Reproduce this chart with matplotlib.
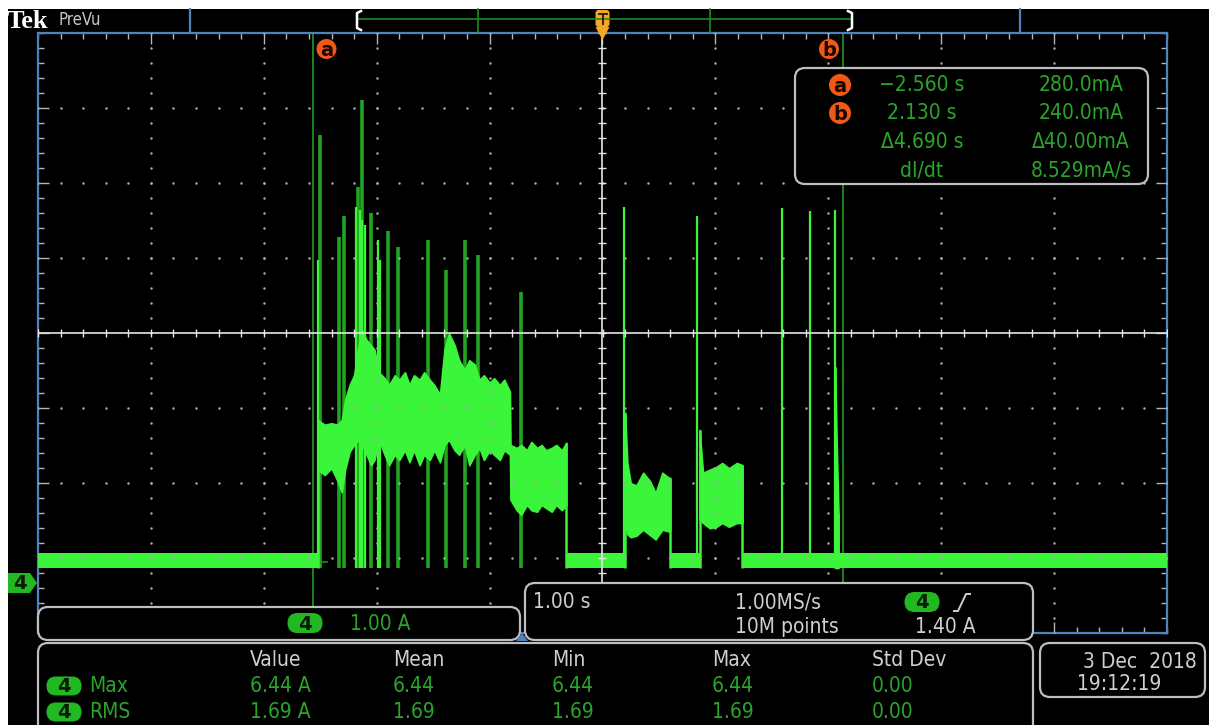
import numpy as np
import matplotlib.pyplot as plt
from matplotlib.patches import FancyBboxPatch, Circle, Polygon, Rectangle

W, H = 1209, 725
FONT = ['DejaVu Sans']
STRETCH = 'condensed'

# acquisition / display settings
t_per_div = 1.00          # s/div
i_per_div = 1.00          # A/div
ch4_pos = -3.333          # ground marker, divisions from centre
sample_rate = "1.00MS/s"
record_len = "10M points"
trig_level = 1.40         # A
acq_date = "3 Dec  2018"
acq_time = "19:12:19"

# cursors a / b
cur_t = [-2.560, 2.130]   # s
cur_i = [0.2800, 0.2400]  # A

# measurements on ch4
meas_names = ['Max', 'RMS']
meas_value = [6.44, 1.69]
meas_mean = [6.44, 1.69]
meas_min = [6.44, 1.69]
meas_max = [6.44, 1.69]
meas_std = [0.00, 0.00]

# idle current band
idle_lo, idle_hi = 0.20, 0.40
idle_segs = [(-5.00, -2.53), (-0.32, 0.20), (0.60, 0.86), (1.24, 5.00)]

# first (long) burst: upper / lower envelope, A
b1_t = [-2.52, -2.46, -2.40, -2.35, -2.31, -2.28, -2.24, -2.20, -2.16, -2.13, -2.09, -2.05, -2.02,
        -1.98, -1.93, -1.89, -1.84, -1.80, -1.75, -1.71, -1.67, -1.62, -1.58, -1.53, -1.49, -1.44,
        -1.40, -1.36, -1.31, -1.27, -1.22, -1.18, -1.13, -1.09, -1.05, -1.00, -0.96, -0.91, -0.87,
        -0.82, -0.815, -0.76, -0.72, -0.67, -0.63, -0.58, -0.54, -0.50, -0.45, -0.41, -0.36, -0.32]
b1_up = [2.17, 2.11, 2.13, 2.11, 2.17, 2.44, 2.64, 2.77, 3.17, 3.37, 3.24, 3.17, 3.11,
         2.81, 2.73, 2.64, 2.77, 2.71, 2.81, 2.64, 2.77, 2.71, 2.81, 2.71, 2.64, 2.51,
         3.11, 3.33, 3.17, 2.97, 2.84, 2.97, 2.91, 2.71, 2.77, 2.67, 2.73, 2.64, 2.71,
         2.55, 1.84, 1.80, 1.84, 1.77, 1.88, 1.80, 1.84, 1.77, 1.80, 1.84, 1.77, 1.87]
b1_lo = [1.51, 1.44, 1.53, 1.37, 1.21, 1.51, 1.75, 1.84, 1.91, 1.84, 1.71, 1.57, 1.64,
         1.91, 1.71, 1.57, 1.71, 1.64, 1.77, 1.61, 1.77, 1.57, 1.71, 1.64, 1.77, 1.61,
         1.84, 1.91, 1.77, 1.71, 1.84, 1.57, 1.71, 1.80, 1.64, 1.77, 1.71, 1.64, 1.77,
         1.71, 1.11, 0.97, 0.91, 1.04, 0.97, 0.95, 1.04, 1.00, 0.95, 1.04, 0.97, 1.04]

b2_t = [0.20, 0.22, 0.25, 0.30, 0.36, 0.42, 0.47, 0.53, 0.58, 0.60]
b2_up = [2.27, 1.60, 1.33, 1.30, 1.47, 1.36, 1.20, 1.47, 1.41, 1.40]
b2_lo = [0.80, 0.65, 0.61, 0.63, 0.71, 0.64, 0.58, 0.71, 0.69, 0.69]

b3_t = [0.86, 0.89, 0.95, 1.01, 1.06, 1.12, 1.19, 1.24]
b3_up = [2.04, 1.47, 1.51, 1.55, 1.60, 1.53, 1.60, 1.57]
b3_lo = [0.85, 0.80, 0.73, 0.75, 0.80, 0.75, 0.80, 0.80]

b4_t = [2.06, 2.075, 2.09]
b4_up = [2.88, 1.80, 0.93]
b4_lo = [0.20, 0.20, 0.20]

# persistence spikes (dim) and bright glitches
spike_t = [-2.50, -2.33, -2.29, -2.17, -2.13, -2.05, -1.90, -1.81, -1.55, -1.39, -1.22, -1.10, -0.72]
spike_i = [5.97, 4.61, 4.89, 5.28, 6.44, 4.93, 4.69, 4.48, 4.57, 4.17, 4.57, 4.37, 3.88]
flash_t = [-2.52, -2.18, -2.15, -2.13, -2.10, -1.99, -1.97, 0.19, 0.84, 1.59, 1.84, 2.06]
flash_i = [4.31, 5.01, 4.97, 4.84, 4.77, 4.57, 4.31, 5.01, 4.89, 5.00, 4.96, 4.97]

# colours
TRACE = '#3af53a'
TRACE_DIM = '#22a322'
CURSOR = '#1f8f1f'
SPINE = '#4d84bd'
ORANGE = '#ee5a16'
CH4 = '#22b822'
TXT_GREEN = '#2aa52a'
TXT_GRAY = '#cfcfcf'
BOX_EDGE = '#bebebe'

t_min, t_max = -5 * t_per_div, 5 * t_per_div
i_min = (-4 - ch4_pos) * i_per_div
i_max = (4 - ch4_pos) * i_per_div
i_mid = -ch4_pos * i_per_div

GX0, GX1, GY0, GY1 = 38, 1167, 33, 633   # graticule in pixels


def px(t):
    return GX0 + (t - t_min) / (t_max - t_min) * (GX1 - GX0)


def py(i):
    return GY1 - (i - i_min) / (i_max - i_min) * (GY1 - GY0)


fig = plt.figure(figsize=(W / 100, H / 100), dpi=100, facecolor='black')
ax = fig.add_axes([GX0 / W, (H - GY1) / H, (GX1 - GX0) / W, (GY1 - GY0) / H])
ax.set_facecolor('black')
ax.set_xlim(t_min, t_max)
ax.set_ylim(i_min, i_max)

# graticule
ax.set_xticks(np.arange(t_min + 1, t_max, 1.0))
ax.set_xticks(np.arange(t_min, t_max + 0.01, 0.2), minor=True)
ax.set_yticks(np.arange(i_min + 1, i_max - 0.5, 1.0))
ax.set_yticks(np.arange(i_min, i_max + 0.01, 0.2), minor=True)
ax.tick_params(which='both', direction='in', top=True, right=True, colors='#b5b5b5',
               labelleft=False, labelbottom=False, width=1)
ax.tick_params(which='major', length=8)
ax.tick_params(which='minor', length=4)
for s in ax.spines.values():
    s.set_color(SPINE)
    s.set_linewidth(1.6)

dot_t = np.arange(t_min, t_max + 0.01, 0.2)
dot_i = np.arange(i_min, i_max + 0.01, 0.2)
for g in np.arange(t_min + 1, t_max, 1.0):
    if abs(g) > 1e-6:
        ax.plot(np.full_like(dot_i, g), dot_i, ls='none', marker='o', ms=1.8,
                color='#a8a8a8', mew=0, zorder=6)
for g in np.arange(i_min + 1, i_max - 0.5, 1.0):
    if abs(g - i_mid) > 1e-6:
        ax.plot(dot_t, np.full_like(dot_t, g), ls='none', marker='o', ms=1.8,
                color='#a8a8a8', mew=0, zorder=6)

ax.axvline(0, color='#e6e6e6', lw=1.2, zorder=6)
ax.axhline(i_mid, color='#e6e6e6', lw=1.2, zorder=6)
ax.plot(dot_t, np.full_like(dot_t, i_mid), ls='none', marker='|', ms=6,
        color='#e6e6e6', mew=1, zorder=6)
ax.plot(np.zeros_like(dot_i), dot_i, ls='none', marker='_', ms=6,
        color='#e6e6e6', mew=1, zorder=6)

# cursors
for t, i in zip(cur_t, cur_i):
    ax.axvline(t, color=CURSOR, lw=1.3, zorder=2)
    ax.plot([t, t + 0.12], [i, i], color=CURSOR, lw=1.2, zorder=4)

# trace
ax.vlines(spike_t, idle_lo, spike_i, colors=TRACE_DIM, lw=2.6, zorder=3)
for t0, t1 in idle_segs:
    ax.fill_between([t0, t1], [idle_lo] * 2, [idle_hi] * 2, color=TRACE, lw=0, zorder=4)
for bt, bu, bl in [(b1_t, b1_up, b1_lo), (b2_t, b2_up, b2_lo),
                   (b3_t, b3_up, b3_lo), (b4_t, b4_up, b4_lo)]:
    ax.fill_between(bt, bl, bu, color=TRACE, lw=1.2, edgecolor=TRACE, zorder=4)
    ax.vlines([bt[0], bt[-1]], idle_lo, [bu[0], bu[-1]], colors=TRACE, lw=1.8, zorder=4)
ax.vlines(flash_t, idle_lo, flash_i, colors=TRACE, lw=1.6, zorder=5)

# ---- screen furniture, pixel coordinates ----
ui = fig.add_axes([0, 0, 1, 1])
ui.set_xlim(0, W)
ui.set_ylim(H, 0)
ui.axis('off')


def label(x, y, s, color, size=14, **kw):
    kw.setdefault('va', 'center')
    ui.text(x, y, s, color=color, fontsize=size, family=FONT, fontstretch=STRETCH, **kw)


ui.add_patch(Rectangle((0, 0), W, 9, fc='white', ec='none'))
ui.add_patch(Rectangle((0, 0), 8, H, fc='white', ec='none'))

ui.text(7, 21, 'Tek', color='white', fontsize=19, fontweight='bold',
        family=['Liberation Serif', 'DejaVu Serif'], va='center', ha='left')
label(59, 20, 'PreVu', '#c8c8c8', 12)

# record overview strip
for xv in (190, 1020):
    ui.plot([xv, xv], [9, 32], color=SPINE, lw=1.6)
ui.plot([358, 851], [19, 19], color='#1c8c1c', lw=1.2)
for xv in (478, 710):
    ui.plot([xv, xv], [9, 32], color='#1c8c1c', lw=1.2)
ui.plot([361, 357, 357, 361], [11, 13, 28, 30], color='white', lw=1.8)
ui.plot([848, 852, 852, 848], [11, 13, 28, 30], color='white', lw=1.8)

# trigger position marker
tx = px(0)
ui.add_patch(FancyBboxPatch((tx - 7, 10), 14, 17, boxstyle='round,pad=0,rounding_size=3',
                            fc='#f5a623', ec='none'))
ui.plot([tx - 4, tx + 4], [14, 14], color='#3a2400', lw=1.4)
ui.plot([tx, tx], [14, 24], color='#3a2400', lw=1.4)
ui.add_patch(Polygon([(tx - 7, 27), (tx + 7, 27), (tx, 40)], fc='#f5a623', ec='none'))


def badge_circle(x, y, letter, r=10):
    ui.add_patch(Circle((x, y), r, fc=ORANGE, ec='none'))
    ui.text(x, y + 1, letter, color='#1a0500', fontsize=14, fontweight='bold',
            ha='center', va='center', family=FONT)


def pill(xc, yc, txt, w=35, h=20):
    ui.add_patch(FancyBboxPatch((xc - w / 2, yc - h / 2), w, h,
                                boxstyle='round,pad=0,rounding_size=%g' % (h / 2),
                                fc=CH4, ec='none'))
    ui.text(xc, yc + 1, txt, color='#0a1a0a', fontsize=14, fontweight='bold',
            ha='center', va='center', family=FONT)


def box(x, y, w, h):
    ui.add_patch(FancyBboxPatch((x, y), w, h, boxstyle='round,pad=0,rounding_size=10',
                                fc='black', ec=BOX_EDGE, lw=1.6))


badge_circle(px(cur_t[0]) + 13, 49, 'a')
badge_circle(px(cur_t[1]) - 14, 49, 'b')

# cursor readout
box(795, 68, 353, 116)
badge_circle(840, 85, 'a', 11)
badge_circle(840, 113, 'b', 11)
dt = cur_t[1] - cur_t[0]
di = cur_i[1] - cur_i[0]
rows = [(f"{cur_t[0]:.3f} s".replace('-', '\u2212'), f"{cur_i[0] * 1000:.1f}mA"),
        (f"{cur_t[1]:.3f} s", f"{cur_i[1] * 1000:.1f}mA"),
        (f"\u0394{abs(dt):.3f} s", f"\u0394{abs(di) * 1000:.2f}mA"),
        ("dI/dt", f"{abs(di / dt) * 1000:.3f}mA/s")]
for k, (c1, c2) in enumerate(rows):
    yy = [85, 113, 142, 170][k]
    label(922, yy, c1, TXT_GREEN, 15, ha='center')
    label(1081, yy, c2, TXT_GREEN, 15, ha='center')

# ch4 ground marker
gy = py(0)
ui.add_patch(Polygon([(8, gy - 10), (30, gy - 10), (37, gy), (30, gy + 10), (8, gy + 10)],
                     fc=CH4, ec='none'))
ui.text(20, gy + 1, '4', color='#0a1a0a', fontsize=14, fontweight='bold',
        ha='center', va='center', family=FONT)

# vertical scale box
box(38, 607, 482, 33)
pill(305, 623, '4')
label(350, 624, f"{i_per_div:.2f} A", TXT_GREEN, 15)
ui.add_patch(Polygon([(516, 641), (528, 641), (522, 633)], fc=SPINE, ec='none'))

# horizontal / trigger box
box(525, 583, 508, 57)
label(533, 602, f"{t_per_div:.2f} s", TXT_GRAY, 15)
label(735, 602, sample_rate, TXT_GRAY, 15)
label(735, 627, record_len, TXT_GRAY, 15)
pill(922, 602, '4')
ui.plot([954, 958, 966, 970], [611, 611, 594, 594], color=TXT_GRAY, lw=1.4)
label(915, 627, f"{trig_level:.2f} A", TXT_GRAY, 15)

# measurement table
box(38, 643, 995, 110)
col_x = [250, 393, 552, 712, 872]
for x, hdr in zip(col_x, ['Value', 'Mean', 'Min', 'Max', 'Std Dev']):
    label(x, 660, hdr, TXT_GRAY, 15)
for k, name in enumerate(meas_names):
    yy = 686 + 26 * k
    pill(64, yy, '4', h=19)
    label(89, yy, name, TXT_GREEN, 15)
    vals = [f"{meas_value[k]:.2f} A", f"{meas_mean[k]:.2f}", f"{meas_min[k]:.2f}",
            f"{meas_max[k]:.2f}", f"{meas_std[k]:.2f}"]
    for x, v in zip(col_x, vals):
        label(x, yy, v, TXT_GREEN, 15)

# date / time
box(1040, 643, 165, 54)
label(1197, 662, acq_date, TXT_GRAY, 15, ha='right')
label(1077, 684, acq_time, TXT_GRAY, 15, ha='left')

fig.savefig('out.png', dpi=100, facecolor='black')
